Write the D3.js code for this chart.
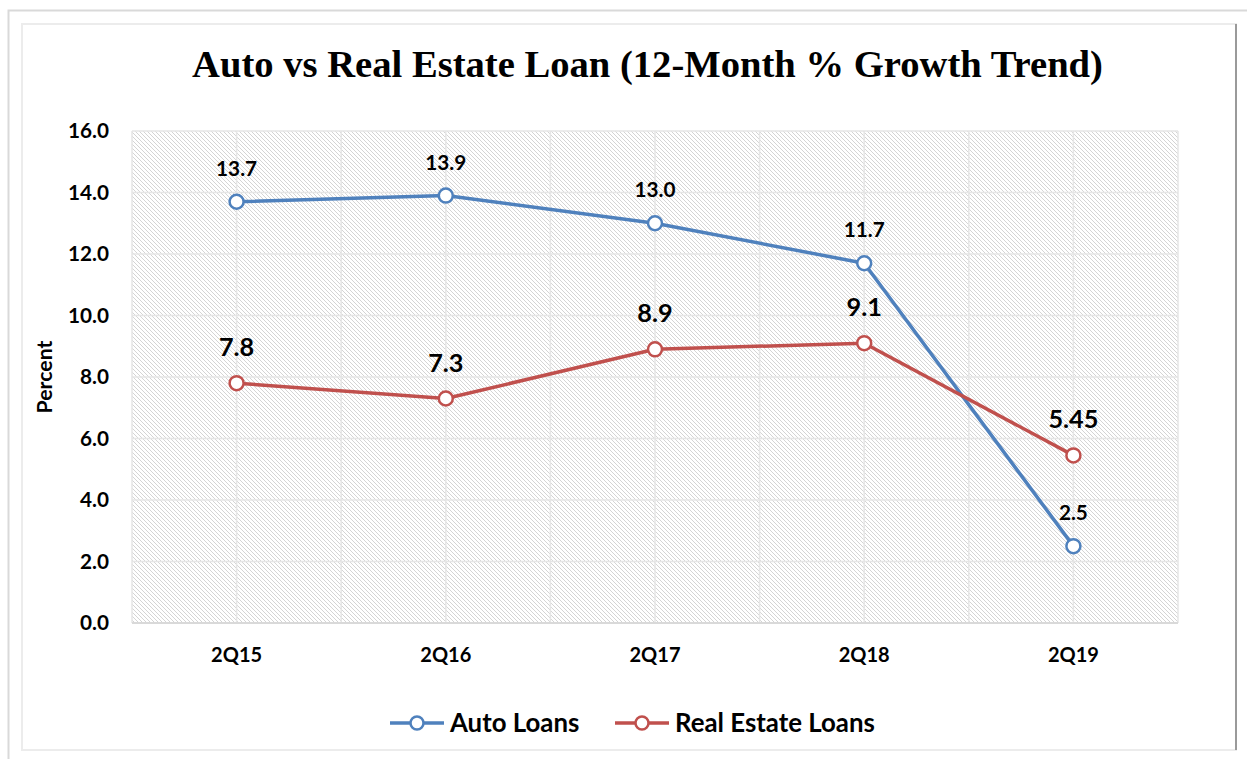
<!DOCTYPE html>
<html><head><meta charset="utf-8">
<script src="https://cdn.jsdelivr.net/npm/d3@7/dist/d3.min.js"></script>
<style>body{margin:0;background:#fff;} svg{display:block;}</style>
</head><body>
<svg id="c" width="1247" height="759"></svg>
<script>
const categories = ["2Q15","2Q16","2Q17","2Q18","2Q19"];
const autoLoans = [13.7, 13.9, 13.0, 11.7, 2.5];
const realEstateLoans = [7.8, 7.3, 8.9, 9.1, 5.45];
const autoLabels = ["13.7","13.9","13.0","11.7","2.5"];
const realEstateLabels = ["7.8","7.3","8.9","9.1","5.45"];
const yTicks = [0,2,4,6,8,10,12,14,16];
const seriesNames = ["Auto Loans","Real Estate Loans"];

const svg = d3.select("#c");
const font = "Lato, 'Open Sans', sans-serif";

// size a font so that a sample string reaches a target width
function fitSize(str, family, target, weight="bold") {
  const t = svg.append("text").attr("font-family",family).attr("font-weight",weight)
    .attr("font-size",100).text(str);
  const w = t.node().getComputedTextLength();
  t.remove();
  return 100 * target / w;
}

// frames
svg.append("rect").attr("x",8.5).attr("y",10.5).attr("width",1250).attr("height",760)
  .attr("fill","none").attr("stroke","#d9d9d9").attr("stroke-width",2);
svg.append("rect").attr("x",22).attr("y",24).attr("width",1214).attr("height",726)
  .attr("fill","#fff").attr("stroke","#ececec").attr("stroke-width",2);
svg.append("line").attr("x1",1236).attr("x2",1236).attr("y1",24).attr("y2",750)
  .attr("stroke","#7f7f7f").attr("stroke-width",1.5);

const plot = {l:132, t:131, r:1178, b:623};
const x = d3.scaleBand().domain(categories).range([plot.l, plot.r]);
const y = d3.scaleLinear().domain([0,16]).range([plot.b, plot.t]);
const cx = d => x(d) + x.bandwidth()/2;

// hatch pattern
const defs = svg.append("defs");
const pat = defs.append("pattern").attr("id","hatch").attr("patternUnits","userSpaceOnUse")
  .attr("width",4).attr("height",4);
pat.append("rect").attr("width",4).attr("height",4).attr("fill","#fff");
pat.append("path").attr("d","M-1,-1 L5,5 M-1,3 L1,5 M3,-1 L5,1").attr("stroke","#cfcfcf").attr("stroke-width",0.9);

svg.append("rect").attr("x",plot.l).attr("y",plot.t).attr("width",plot.r-plot.l).attr("height",plot.b-plot.t)
  .attr("fill","url(#hatch)");

const g = svg.append("g");
const vx = [];
categories.forEach(c => { vx.push(x(c)); vx.push(cx(c)); });
vx.push(plot.r);
g.selectAll(".vg").data(vx).join("line").attr("x1",d=>d).attr("x2",d=>d)
  .attr("y1",plot.t).attr("y2",plot.b).attr("stroke","#e6e6e6").attr("stroke-width",1.5);
g.selectAll(".hg").data(yTicks).join("line").attr("x1",plot.l).attr("x2",plot.r)
  .attr("y1",d=>y(d)).attr("y2",d=>y(d)).attr("stroke","#e6e6e6").attr("stroke-width",1.5);
g.append("line").attr("x1",plot.l).attr("x2",plot.r).attr("y1",plot.b).attr("y2",plot.b)
  .attr("stroke","#d9d9d9").attr("stroke-width",2);

// y axis labels
const tickSize = fitSize("16.0", font, 41);
const yAxis = d3.axisLeft(y).tickValues(yTicks).tickFormat(d3.format(".1f")).tickSize(0).tickPadding(0);
const ya = svg.append("g").attr("transform",`translate(${plot.l-23},0)`).call(yAxis);
ya.select(".domain").remove();
ya.selectAll("text").attr("font-family",font).attr("font-weight","bold").attr("font-size",tickSize).attr("fill","#000");

// x axis labels
const xSize = fitSize("2Q15", font, 51);
const xAxis = d3.axisBottom(x).tickSize(0).tickPadding(0);
const xa = svg.append("g").attr("transform",`translate(0,0)`).call(xAxis);
xa.select(".domain").remove();
xa.selectAll("text").attr("y",662).attr("dy",null).attr("font-family",font).attr("font-weight","bold")
  .attr("font-size",xSize).attr("fill","#000");

// y title
svg.append("text").attr("transform","translate(52,377) rotate(-90)").attr("text-anchor","middle")
  .attr("font-family",font).attr("font-weight","bold").attr("font-size",fitSize("Percent", font, 73)).text("Percent");

// title
const titleText = "Auto vs Real Estate Loan (12-Month % Growth Trend)";
const titleFont = "'Liberation Serif', 'DejaVu Serif', serif";
svg.append("text").attr("x",647.5).attr("y",77).attr("text-anchor","middle")
  .attr("font-family",titleFont).attr("font-weight","bold").attr("font-size",fitSize(titleText, titleFont, 911))
  .text(titleText);

const colors = ["#4f81bd","#c0504d"];
const seriesData = [autoLoans, realEstateLoans];
const labelData = [autoLabels, realEstateLabels];
const labelSize = [fitSize("13.7", font, 41), fitSize("5.45", font, 50)];
const labelOffset = [26, 27];
const line = d3.line().x((d,i)=>cx(categories[i])).y(d=>y(d));

seriesData.forEach((vals, s) => {
  svg.append("path").datum(vals).attr("d",line).attr("fill","none")
    .attr("stroke",colors[s]).attr("stroke-width",3.5).attr("stroke-linejoin","round");
});
seriesData.forEach((vals, s) => {
  svg.selectAll(null).data(vals).join("circle").attr("cx",(d,i)=>cx(categories[i])).attr("cy",d=>y(d))
    .attr("r",7).attr("fill","#fff").attr("stroke",colors[s]).attr("stroke-width",2.5);
  svg.selectAll(null).data(vals).join("text").attr("x",(d,i)=>cx(categories[i])).attr("y",d=>y(d)-labelOffset[s])
    .attr("text-anchor","middle").attr("font-family",font).attr("font-weight","bold")
    .attr("font-size",labelSize[s]).attr("fill","#000").text((d,i)=>labelData[s][i]);
});

// legend
const legSize = fitSize("Real Estate Loans", font, 200);
const legX = [390, 615];
seriesNames.forEach((n, s) => {
  const lg = svg.append("g").attr("transform",`translate(${legX[s]},723)`);
  lg.append("line").attr("x1",0).attr("x2",54).attr("stroke",colors[s]).attr("stroke-width",3.5);
  lg.append("circle").attr("cx",27).attr("r",6.5).attr("fill","#fff").attr("stroke",colors[s]).attr("stroke-width",2.5);
  lg.append("text").attr("x",60).attr("y",9).attr("font-family",font).attr("font-weight","bold")
    .attr("font-size",legSize).attr("fill","#000").text(n);
});
</script>
</body></html>
